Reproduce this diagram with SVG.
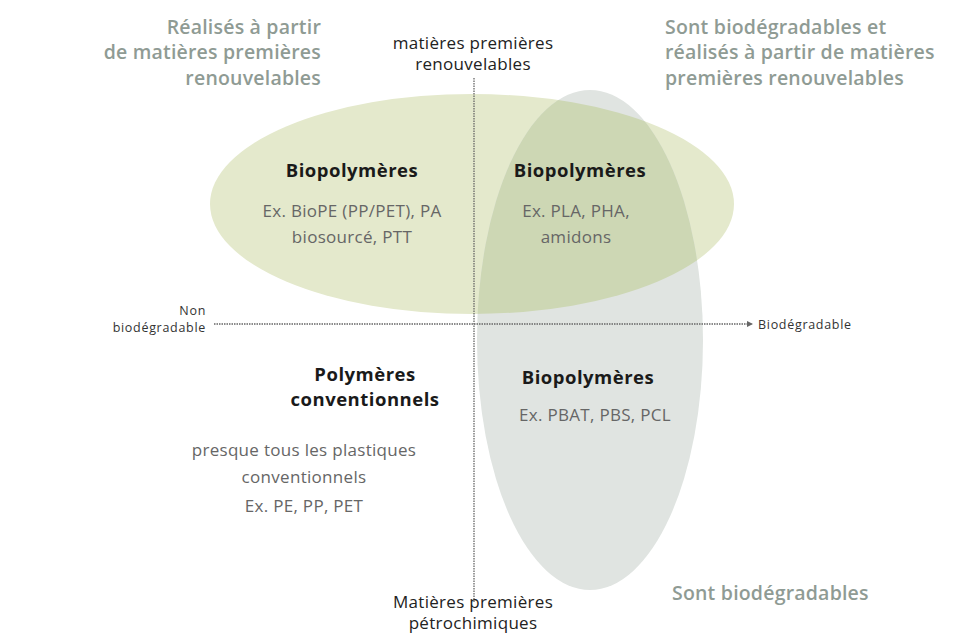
<svg xmlns="http://www.w3.org/2000/svg" width="979" height="635" viewBox="0 0 979 635">
<style>
.cap{font-family:"Open Sans","DejaVu Sans",sans-serif;font-weight:600;font-size:19.5px;letter-spacing:0.2px;fill:#8f9b94}
.axis{font-family:"Open Sans","DejaVu Sans",sans-serif;font-size:17px;letter-spacing:0.3px;fill:#222}
.small{font-family:"Open Sans","DejaVu Sans",sans-serif;font-size:12.5px;letter-spacing:0.7px;fill:#333}
.title{font-family:"Open Sans","DejaVu Sans",sans-serif;font-weight:700;font-size:18.5px;letter-spacing:0.5px;fill:#1a1a1a}
.ex{font-family:"Open Sans","DejaVu Sans",sans-serif;font-size:17px;letter-spacing:0.3px;fill:#666}
.dot{stroke:#666;stroke-width:1.3;stroke-dasharray:1.5 1;fill:none}
</style>
<defs>
<clipPath id="greenClip"><ellipse cx="472" cy="204" rx="262" ry="110"/></clipPath>
<marker id="arr" viewBox="0 0 6 6" refX="5" refY="3" markerWidth="5" markerHeight="5" orient="auto"><path d="M0,0 L6,3 L0,6 z" fill="#666"/></marker>
</defs>
<rect width="979" height="635" fill="#fff"/>
<g id="sets">
<ellipse id="green-set" cx="472" cy="204" rx="262" ry="110" fill="#e4e9cc"/>
<ellipse id="gray-set" cx="590" cy="340" rx="113" ry="250" fill="#e0e4e1"/>
<ellipse id="overlap" cx="590" cy="340" rx="113" ry="250" fill="#cdd7b4" clip-path="url(#greenClip)"/>
</g>
<g id="connectors">
<line class="dot" x1="474" y1="78" x2="474" y2="602"/>
<line class="dot" x1="214" y1="324" x2="752" y2="324" marker-end="url(#arr)"/>
</g>
<g id="label-top-left">
<text class="cap" x="321" y="34" text-anchor="end">Réalisés à partir</text>
<text class="cap" x="321" y="59" text-anchor="end">de matières premières</text>
<text class="cap" x="321" y="85" text-anchor="end">renouvelables</text>
</g>
<g id="label-top-right">
<text class="cap" x="665" y="34">Sont biodégradables et</text>
<text class="cap" x="665" y="59">réalisés à partir de matières</text>
<text class="cap" x="665" y="85">premières renouvelables</text>
</g>
<g id="label-bottom-right">
<text class="cap" x="672" y="600">Sont biodégradables</text>
</g>
<g id="axis-top">
<text class="axis" x="473" y="49" text-anchor="middle">matières premières</text>
<text class="axis" x="473" y="70" text-anchor="middle">renouvelables</text>
</g>
<g id="axis-bottom">
<text class="axis" x="473" y="608" text-anchor="middle">Matières premières</text>
<text class="axis" x="473" y="629" text-anchor="middle">pétrochimiques</text>
</g>
<g id="axis-left">
<text class="small" x="206" y="315" text-anchor="end">Non</text>
<text class="small" x="206" y="332" text-anchor="end">biodégradable</text>
</g>
<g id="axis-right">
<text class="small" x="758" y="329">Biodégradable</text>
</g>
<g id="q-top-left">
<text class="title" x="352" y="177" text-anchor="middle">Biopolymères</text>
<text class="ex" x="352" y="217" text-anchor="middle">Ex.  BioPE (PP/PET), PA</text>
<text class="ex" x="352" y="243" text-anchor="middle">biosourcé, PTT</text>
</g>
<g id="q-top-right">
<text class="title" x="580" y="177" text-anchor="middle">Biopolymères</text>
<text class="ex" x="576" y="217" text-anchor="middle">Ex. PLA, PHA,</text>
<text class="ex" x="576" y="243" text-anchor="middle">amidons</text>
</g>
<g id="q-bottom-left">
<text class="title" x="365" y="381" text-anchor="middle">Polymères</text>
<text class="title" x="365" y="406" text-anchor="middle">conventionnels</text>
<text class="ex" x="304" y="456" text-anchor="middle">presque tous les plastiques</text>
<text class="ex" x="304" y="483" text-anchor="middle">conventionnels</text>
<text class="ex" x="304" y="512" text-anchor="middle">Ex. PE,  PP,  PET</text>
</g>
<g id="q-bottom-right">
<text class="title" x="588" y="384" text-anchor="middle">Biopolymères</text>
<text class="ex" x="595" y="421" text-anchor="middle">Ex. PBAT, PBS, PCL</text>
</g>
</svg>
